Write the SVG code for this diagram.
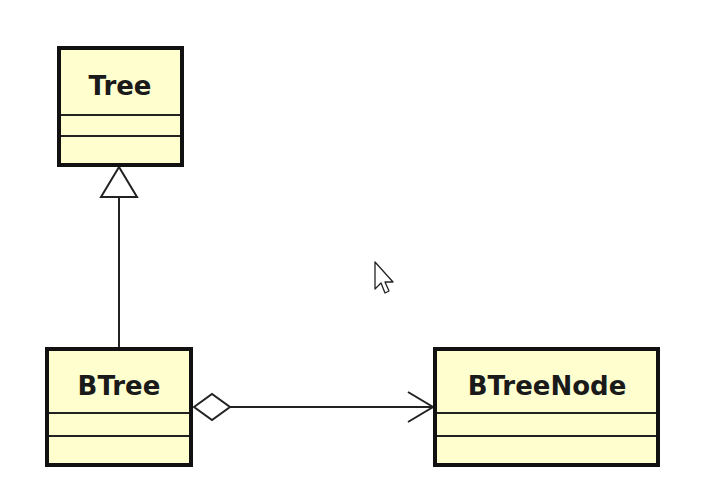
<svg xmlns="http://www.w3.org/2000/svg" width="728" height="504" viewBox="0 0 728 504">
<style>
.box{fill:#FEFECE;stroke:#111;stroke-width:4}
.div{stroke:#222;stroke-width:2}
.lbl{font-family:"DejaVu Sans",sans-serif;font-weight:bold;font-size:26px;fill:#1a1a1a;text-anchor:middle}
.ln{stroke:#222;stroke-width:2;fill:none}
</style>
<rect width="728" height="504" fill="#fff"/>
<g id="connectors">
<line class="ln" x1="119" y1="197" x2="119" y2="347"/>
<polygon points="119,167 101,197 137,197" fill="#fff" stroke="#222" stroke-width="2"/>
<polygon points="194,407 212,394 230,407 212,420" fill="#fff" stroke="#222" stroke-width="2"/>
<line class="ln" x1="230" y1="407" x2="433" y2="407"/>
<polyline class="ln" points="408,392 433,407 408,422"/>
</g>
<g id="Tree">
<rect class="box" x="59" y="48" width="123" height="117"/>
<line class="div" x1="61" y1="115" x2="180" y2="115"/>
<line class="div" x1="61" y1="136" x2="180" y2="136"/>
<text class="lbl" x="120" y="95">Tree</text>
</g>
<g id="BTree">
<rect class="box" x="47" y="349" width="144" height="116"/>
<line class="div" x1="49" y1="413" x2="189" y2="413"/>
<line class="div" x1="49" y1="436" x2="189" y2="436"/>
<text class="lbl" x="119" y="395">BTree</text>
</g>
<g id="BTreeNode">
<rect class="box" x="435" y="349" width="223" height="116"/>
<line class="div" x1="437" y1="413" x2="656" y2="413"/>
<line class="div" x1="437" y1="436" x2="656" y2="436"/>
<text class="lbl" x="547" y="395">BTreeNode</text>
</g>
<path d="M375,262 L375,289 L381,283 L385,293 L389,291 L385,282 L393,282 Z" fill="#fff" stroke="#222" stroke-width="1.3" stroke-linejoin="round"/>
</svg>
